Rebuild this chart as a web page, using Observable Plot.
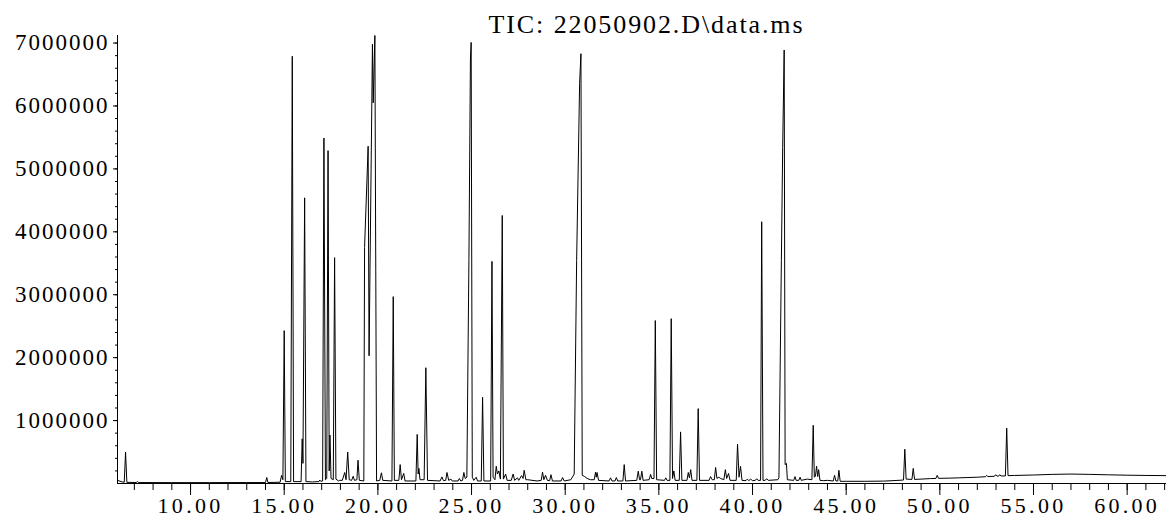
<!DOCTYPE html>
<html><head><meta charset="utf-8">
<script src="https://cdn.jsdelivr.net/npm/d3@7"></script>
<script src="https://cdn.jsdelivr.net/npm/@observablehq/plot@0.6"></script>
<style>
html,body{margin:0;padding:0;background:#fff;}
svg text{font-family:"Liberation Serif",serif;}
g[aria-label="x-axis tick label"] text{letter-spacing:3.3px;}
g[aria-label="y-axis tick label"] text{letter-spacing:2px;}
g[aria-label="text"] text{letter-spacing:1.9px;}
</style></head><body><div id="chart"></div>
<script>
const title = "TIC: 22050902.D\\data.ms";
const xMajorTicks = [10, 15, 20, 25, 30, 35, 40, 45, 50, 55, 60];
const yMajorTicks = [1000000, 2000000, 3000000, 4000000, 5000000, 6000000, 7000000];
// [retention time (min), abundance]
const ticPoints = [
[6.10,50000],[6.35,25000],[6.46,20000],[6.53,500000],[6.60,18000],[7.10,16000],[7.17,30000],[7.24,15000],[9.00,14000],[11.00,14000],[13.00,15000],[14.00,15000],[14.07,95000],[14.13,16000],[14.78,20000],[14.86,130000],[14.93,60000],[15.00,2430000],[15.06,30000],[15.35,30000],[15.43,6790000],[15.50,30000],[15.90,30000],[15.96,710000],[16.00,320000],[16.09,4540000],[16.16,30000],[16.50,25000],[16.85,30000],[16.90,55000],[16.95,35000],[17.05,40000],[17.12,5490000],[17.20,60000],[17.27,80000],[17.34,5290000],[17.40,200000],[17.44,770000],[17.50,80000],[17.62,60000],[17.69,3590000],[17.76,70000],[17.90,40000],[17.96,50000],[18.10,50000],[18.23,175000],[18.30,60000],[18.39,500000],[18.47,60000],[18.60,50000],[18.68,115000],[18.75,50000],[18.88,60000],[18.94,370000],[19.01,50000],[19.25,40000],[19.29,3750000],[19.48,5360000],[19.53,2030000],[19.71,6980000],[19.75,6050000],[19.84,7120000],[19.93,40000],[20.10,50000],[20.19,170000],[20.26,50000],[20.75,40000],[20.82,2970000],[20.88,50000],[21.12,50000],[21.19,300000],[21.26,60000],[21.38,160000],[21.45,40000],[22.03,40000],[22.10,780000],[22.15,150000],[22.19,240000],[22.25,60000],[22.47,60000],[22.56,1840000],[22.65,50000],[23.32,40000],[23.42,105000],[23.50,45000],[23.62,50000],[23.69,175000],[23.78,50000],[23.90,70000],[23.97,40000],[24.28,40000],[24.35,80000],[24.42,40000],[24.52,50000],[24.59,175000],[24.66,80000],[24.75,100000],[24.86,3540000],[24.94,6730000],[24.98,7010000],[25.04,100000],[25.12,50000],[25.25,100000],[25.32,40000],[25.52,40000],[25.59,1370000],[25.66,40000],[26.02,40000],[26.09,3530000],[26.15,100000],[26.25,60000],[26.32,275000],[26.38,150000],[26.46,200000],[26.54,70000],[26.64,4260000],[26.70,70000],[26.82,150000],[26.90,50000],[27.12,50000],[27.22,150000],[27.30,50000],[27.45,90000],[27.52,50000],[27.67,125000],[27.75,80000],[27.81,210000],[27.90,60000],[28.00,60000],[28.50,40000],[28.72,50000],[28.79,180000],[28.86,60000],[28.95,130000],[29.05,50000],[29.17,45000],[29.24,140000],[29.32,40000],[29.78,40000],[29.86,95000],[29.95,40000],[30.30,60000],[30.48,150000],[30.61,3540000],[30.77,6360000],[30.84,6830000],[30.91,130000],[31.04,110000],[31.17,80000],[31.35,60000],[31.55,60000],[31.62,180000],[31.66,100000],[31.70,175000],[31.78,50000],[32.34,40000],[32.42,90000],[32.50,40000],[32.66,40000],[32.73,95000],[32.80,40000],[33.08,40000],[33.15,300000],[33.22,40000],[33.82,50000],[33.90,195000],[33.97,60000],[34.02,60000],[34.09,195000],[34.16,50000],[34.48,60000],[34.56,145000],[34.62,80000],[34.74,80000],[34.81,2590000],[34.88,60000],[35.30,50000],[35.37,90000],[35.44,50000],[35.59,50000],[35.66,2620000],[35.73,80000],[35.80,200000],[35.87,50000],[36.09,50000],[36.16,820000],[36.23,50000],[36.50,50000],[36.57,175000],[36.63,90000],[36.70,220000],[36.77,50000],[37.03,50000],[37.10,1190000],[37.17,50000],[37.68,50000],[37.76,110000],[37.85,60000],[37.96,60000],[38.03,255000],[38.10,80000],[38.20,100000],[38.30,80000],[38.47,60000],[38.55,220000],[38.62,80000],[38.72,160000],[38.80,50000],[39.13,50000],[39.20,625000],[39.28,100000],[39.36,275000],[39.44,50000],[39.65,45000],[39.72,70000],[39.80,45000],[39.90,70000],[40.00,45000],[40.15,50000],[40.22,75000],[40.30,50000],[40.43,50000],[40.49,4160000],[40.56,50000],[40.68,50000],[40.75,75000],[40.85,50000],[41.35,60000],[41.41,90000],[41.54,3540000],[41.61,5340000],[41.69,6890000],[41.74,300000],[41.81,320000],[41.86,60000],[42.20,50000],[42.27,110000],[42.33,50000],[42.47,50000],[42.54,100000],[42.60,50000],[42.92,70000],[43.17,60000],[43.24,925000],[43.30,100000],[43.36,120000],[43.42,275000],[43.48,110000],[43.53,220000],[43.60,50000],[43.80,45000],[44.00,50000],[44.31,40000],[44.38,130000],[44.45,40000],[44.55,40000],[44.61,210000],[44.68,35000],[45.00,35000],[46.00,35000],[47.00,38000],[47.50,45000],[48.06,55000],[48.13,545000],[48.20,70000],[48.51,65000],[48.58,240000],[48.65,65000],[49.00,70000],[49.50,78000],[49.79,80000],[49.86,130000],[49.93,82000],[50.50,85000],[51.00,90000],[51.50,95000],[52.00,100000],[52.44,108000],[52.50,130000],[52.56,110000],[52.92,115000],[52.98,140000],[53.05,117000],[53.14,118000],[53.20,140000],[53.26,120000],[53.50,120000],[53.57,880000],[53.64,125000],[54.00,128000],[55.00,135000],[56.00,145000],[57.00,150000],[58.00,145000],[59.00,138000],[60.00,132000],[61.00,128000],[62.10,125000]
];
const data = ticPoints.map(([t, v]) => ({t, v}));
const chart = Plot.plot({
  width: 1166, height: 517,
  marginLeft: 117, marginRight: 0, marginTop: 35, marginBottom: 34,
  x: {domain: [6.1, 62.1], label: null},
  y: {domain: [0, 7120000], label: null},
  style: {fontFamily: "Liberation Serif", fontSize: "23px", color: "#000", background: "#fff"},
  marks: [
    Plot.axisX({ticks: d3.range(7, 63, 1), tickSize: 7, tickFormat: () => ""}),
    Plot.axisX({ticks: xMajorTicks, tickSize: 12, tickPadding: 1.5, fontSize: 22, tickFormat: d => d.toFixed(2)}),
    Plot.axisY({ticks: d3.range(200000, 7000001, 200000), tickSize: 2, tickFormat: () => ""}),
    Plot.axisY({ticks: yMajorTicks, tickSize: 4, tickPadding: 4, fontSize: 23, tickFormat: d => String(d)}),
    Plot.ruleX([6.1], {stroke: "#000"}),
    Plot.ruleY([0], {stroke: "#000"}),
    Plot.line(data, {x: "t", y: "v", stroke: "#000", strokeWidth: 1}),
    Plot.text([title], {frameAnchor: "top", lineAnchor: "bottom", dy: -3, dx: 4.5, fontSize: 26, text: d => d, fill: "#000"})
  ]
});
document.getElementById("chart").appendChild(chart);
</script></body></html>
